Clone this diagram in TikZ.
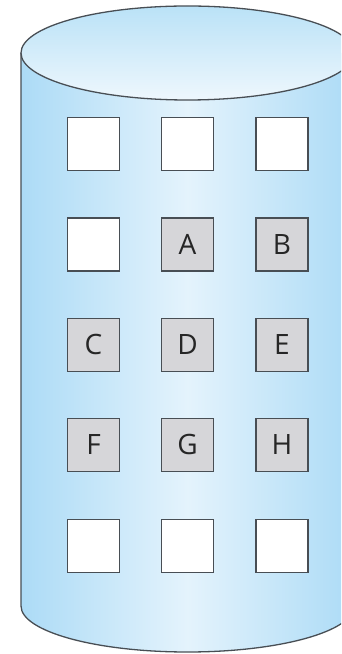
\documentclass[tikz,border=0pt]{standalone}
\usepackage{fontspec}
\setmainfont{Open Sans}
\definecolor{cylside}{RGB}{172,219,246}
\definecolor{cylmid}{RGB}{228,243,252}
\definecolor{captop}{RGB}{186,226,247}
\definecolor{capbot}{RGB}{238,247,253}
\definecolor{edge}{RGB}{72,78,84}
\definecolor{boxgray}{RGB}{214,214,217}
\tikzset{
  block/.style={draw=edge, line width=1.6pt, minimum width=52pt, minimum height=53pt,
    inner sep=0pt, font=\fontsize{28}{30}\selectfont, text=black!85},
  emptyblock/.style={block, fill=white},
  usedblock/.style={block, fill=boxgray},
}
\begin{document}
\begin{tikzpicture}[x=1pt,y=1pt]
\useasboundingbox (0,0) rectangle (341,654);
\clip (0,0) rectangle (341,654);
% body
\shade[left color=cylside, right color=cylside, middle color=cylmid]
  (21,601) -- (21,48) arc[start angle=180,end angle=360,x radius=166.5,y radius=46] -- (354,601) -- cycle;
\draw[edge, line width=1.3pt]
  (21,601) -- (21,48) arc[start angle=180,end angle=360,x radius=166.5,y radius=46] -- (354,601);
% top cap
\shade[top color=captop, bottom color=capbot] (187.5,601) ellipse[x radius=166.5, y radius=47];
\draw[edge, line width=1.3pt] (187.5,601) ellipse[x radius=166.5, y radius=47];
% blocks
\node[emptyblock] (r1c1) at (93.5,510) {};
\node[emptyblock] (r1c2) at (187.5,510) {};
\node[emptyblock] (r1c3) at (282,510) {};
\node[emptyblock] (r2c1) at (93.5,409.5) {};
\node[usedblock] (A) at (187.5,409.5) {A};
\node[usedblock] (B) at (282,409.5) {B};
\node[usedblock] (C) at (93.5,309) {C};
\node[usedblock] (D) at (187.5,309) {D};
\node[usedblock] (E) at (282,309) {E};
\node[usedblock] (F) at (93.5,209) {F};
\node[usedblock] (G) at (187.5,209) {G};
\node[usedblock] (H) at (282,209) {H};
\node[emptyblock] (r5c1) at (93.5,108) {};
\node[emptyblock] (r5c2) at (187.5,108) {};
\node[emptyblock] (r5c3) at (282,108) {};
\end{tikzpicture}
\end{document}
